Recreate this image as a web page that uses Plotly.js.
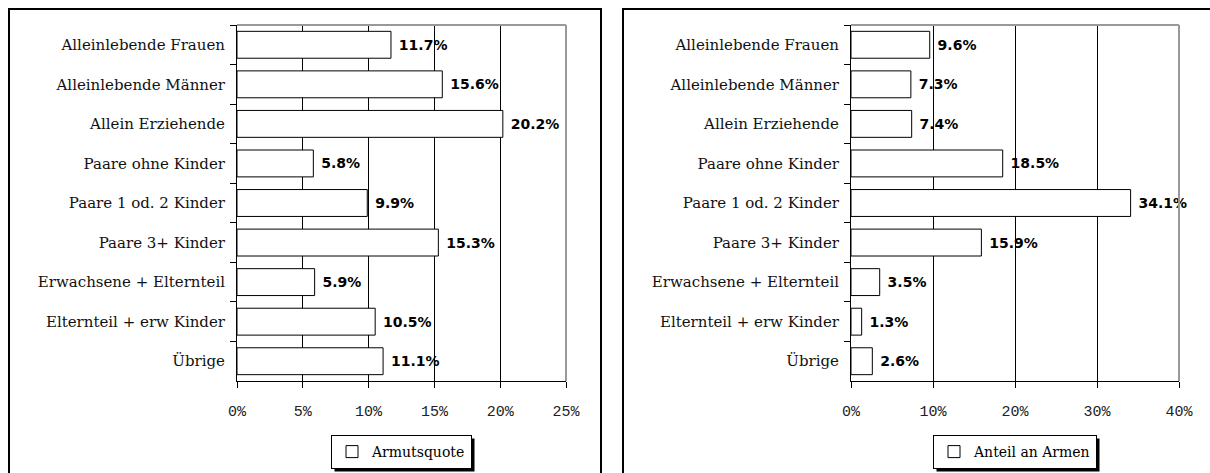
<!DOCTYPE html>
<html>
<head>
<meta charset="utf-8">
<script src="https://cdn.plot.ly/plotly-3.0.1.min.js"></script>
<style>html,body{margin:0;padding:0;background:#fff;}#chart{width:1210px;height:473px;}</style>
</head>
<body>
<div id="chart"></div>
<script>
const categories = ["Alleinlebende Frauen", "Alleinlebende Männer", "Allein Erziehende", "Paare ohne Kinder", "Paare 1 od. 2 Kinder", "Paare 3+ Kinder", "Erwachsene + Elternteil", "Elternteil + erw Kinder", "Übrige"];
const armutsquote = [11.7, 15.6, 20.2, 5.8, 9.9, 15.3, 5.9, 10.5, 11.1];
const anteilArmen = [9.6, 7.3, 7.4, 18.5, 34.1, 15.9, 3.5, 1.3, 2.6];
const seriesNames = ["Armutsquote", "Anteil an Armen"];

const W = 1210, H = 473;
const px = v => v / W;
const py = v => 1 - v / H;

const barStyle = {color: "#ffffff", line: {color: "#000000", width: 1}};
const labelFont = {family: "DejaVu Sans", size: 14, color: "#000", weight: "bold"};

const traces = [
  {type: "bar", orientation: "h", y: categories, x: armutsquote, name: seriesNames[0],
   marker: barStyle, xaxis: "x", yaxis: "y", legend: "legend",
   texttemplate: " %{x:.1f}%", textposition: "outside", textfont: labelFont, cliponaxis: false, hoverinfo: "none"},
  {type: "bar", orientation: "h", y: categories, x: anteilArmen, name: seriesNames[1],
   marker: barStyle, xaxis: "x2", yaxis: "y2", legend: "legend2",
   texttemplate: " %{x:.1f}%", textposition: "outside", textfont: labelFont, cliponaxis: false, hoverinfo: "none"}
];

const yDomain = [py(381), py(25)];
const xAx = (domain, range, dtick, anchor) => ({
  domain: domain, range: range, dtick: dtick, tick0: 0, anchor: anchor,
  ticksuffix: "%", showgrid: true, gridcolor: "#000", gridwidth: 1,
  showline: true, linecolor: "#000", linewidth: 1,
  ticks: "outside", ticklen: 6, tickcolor: "#000",
  tickfont: {family: "Liberation Mono", size: 15, color: "#222"},
  ticklabelstandoff: 10,
  zeroline: false, fixedrange: true
});
const yAx = (anchor) => ({
  domain: yDomain, anchor: anchor, type: "category", autorange: "reversed",
  showline: true, linecolor: "#000", linewidth: 1,
  ticks: "outside", ticklen: 6, tickcolor: "#000", tickson: "boundaries",
  tickfont: {family: "DejaVu Serif", size: 15, color: "#111"},
  ticklabelstandoff: 8, showgrid: false, fixedrange: true
});

const legendStyle = (xc) => ({
  x: px(xc), y: py(452), xanchor: "center", yanchor: "middle",
  orientation: "h", bgcolor: "#fff", bordercolor: "#000", borderwidth: 1,
  font: {family: "DejaVu Serif", size: 14, color: "#000"},
  itemwidth: 30, tracegroupgap: 0
});

const shapes = [
  // panel borders
  {type: "rect", xref: "paper", yref: "paper", x0: px(9), x1: px(601), y0: py(490), y1: py(9), line: {color: "#000", width: 2}},
  {type: "rect", xref: "paper", yref: "paper", x0: px(623), x1: px(1230), y0: py(490), y1: py(9), line: {color: "#000", width: 2}},
  // plot-area gray border (top & right)
  {type: "line", xref: "x domain", yref: "y domain", x0: 0, x1: 1, y0: 1, y1: 1, line: {color: "#999", width: 2}, layer: "above"},
  {type: "line", xref: "x domain", yref: "y domain", x0: 1, x1: 1, y0: 0, y1: 1, line: {color: "#999", width: 2}, layer: "above"},
  {type: "line", xref: "x2 domain", yref: "y2 domain", x0: 0, x1: 1, y0: 1, y1: 1, line: {color: "#999", width: 2}, layer: "above"},
  {type: "line", xref: "x2 domain", yref: "y2 domain", x0: 1, x1: 1, y0: 0, y1: 1, line: {color: "#999", width: 2}, layer: "above"}
];

const layout = {
  width: W, height: H, margin: {l: 0, r: 0, t: 0, b: 0},
  paper_bgcolor: "#fff", plot_bgcolor: "#fff",
  bargap: 0.32, showlegend: true,
  xaxis: xAx([px(237), px(566)], [0, 25], 5, "y"),
  yaxis: yAx("x"),
  xaxis2: xAx([px(851), px(1179)], [0, 40], 10, "y2"),
  yaxis2: yAx("x2"),
  legend: legendStyle(401.5),
  legend2: legendStyle(1015),
  shapes: shapes
};

const gd = document.getElementById("chart");
Plotly.newPlot(gd, traces, layout, {staticPlot: true, displayModeBar: false}).then(() => {
  // drop shadow behind each legend box, offset 3px right/down
  const root = gd.getBoundingClientRect();
  const extra = [];
  gd.querySelectorAll("g.legend rect.bg, g.legend2 rect.bg, .infolayer > g[class^='legend'] rect.bg").forEach(r => {
    const b = r.getBoundingClientRect();
    const key = Math.round(b.left) + "_" + Math.round(b.top);
    if (extra.some(e => e.key === key)) return;
    extra.push({key: key, shape: {type: "rect", xref: "paper", yref: "paper", layer: "below",
      x0: px(b.left - root.left + 3), x1: px(b.right - root.left + 3),
      y0: py(b.bottom - root.top + 3), y1: py(b.top - root.top + 3),
      fillcolor: "#000", line: {width: 0}}});
  });
  if (extra.length) Plotly.relayout(gd, {shapes: shapes.concat(extra.map(e => e.shape))});
});
</script>
</body>
</html>
